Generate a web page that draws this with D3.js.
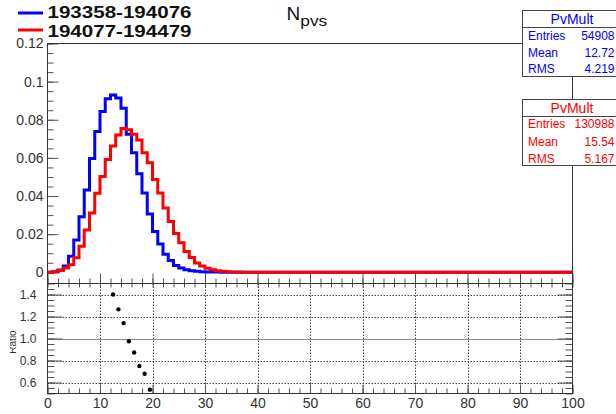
<!DOCTYPE html>
<html>
<head>
<meta charset="utf-8">
<script src="https://cdn.jsdelivr.net/npm/d3@7"></script>
<style>
  body { margin: 0; background: #fff; }
  text { font-family: "Liberation Sans", Arial, sans-serif; }
</style>
</head>
<body>
<div id="chart"></div>
<script>
// bin contents, bins of width 1 starting at 0 (bins past the list are empty)
var blueVals = [0, 0.0003, 0.0012, 0.0033, 0.0084, 0.0169, 0.0292, 0.0432, 0.0597, 0.0738,
                0.0843, 0.0910, 0.0930, 0.0914, 0.0860, 0.0724, 0.0627, 0.0517, 0.0416, 0.0306,
                0.0214, 0.0148, 0.0095, 0.0062, 0.0036, 0.0022, 0.0014, 0.0008, 0.0005, 0.0003,
                0.0002, 0.0001, 0.0001, 0, 0, 0, 0, 0, 0, 0];
var redVals  = [0, 0.0003, 0.0010, 0.0023, 0.0039, 0.0076, 0.0137, 0.0222, 0.0311, 0.0415,
                0.0503, 0.0591, 0.0663, 0.0720, 0.0754, 0.0747, 0.0724, 0.0694, 0.0627, 0.0575,
                0.0487, 0.0416, 0.0337, 0.0267, 0.0204, 0.0155, 0.0109, 0.0077, 0.0049, 0.0033,
                0.0021, 0.0013, 0.0008, 0.0005, 0.0003, 0.0002, 0.0001, 0, 0, 0];
// ratio points visible inside the 0.5 - 1.5 window
var ratioBins = [12, 13, 14, 15, 16, 17, 18, 19];
var ratioVals = [1.40, 1.265, 1.14, 0.975, 0.873, 0.75, 0.68, 0.535];

var legendNames = ["193358-194076", "194077-194479"];
var statLabels = ["Entries", "Mean", "RMS"];
var blueStats = ["54908", "12.72", "4.219"];
var redStats = ["130988", "15.54", "5.167"];

var xTicks = [0, 10, 20, 30, 40, 50, 60, 70, 80, 90, 100];
var yTopTicks = [0, 0.02, 0.04, 0.06, 0.08, 0.1, 0.12];
var yBotTicks = [0.6, 0.8, 1, 1.2, 1.4];

var width = 616, height = 414;
var L = 47.5, R = 572.5, T = 43.5, M = 283.5, B = 393.5;

var svg = d3.select("#chart").append("svg")
    .attr("width", width).attr("height", height);

var x = d3.scaleLinear().domain([0, 100]).range([L, R]);
var yTop = d3.scaleLinear().domain([0, 0.12]).range([272.3, T]);
var yBot = d3.scaleLinear().domain([0.5, 1.5]).range([B, M]);

function minor(lo, hi, step) {
  var out = [];
  for (var v = lo; v <= hi + 1e-9; v += step) out.push(+v.toFixed(4));
  return out;
}

svg.append("clipPath").attr("id", "topclip")
  .append("rect").attr("x", L).attr("y", T).attr("width", R - L).attr("height", M - T);
svg.append("clipPath").attr("id", "leftclip")
  .append("rect").attr("x", 10).attr("y", 0).attr("width", 40).attr("height", height);

// ---------- lower panel grid ----------
var grid = svg.append("g");
grid.selectAll(".vg").data(xTicks.slice(1, -1)).enter().append("line")
    .attr("x1", function(d) { return Math.round(x(d)) + 0.5; })
    .attr("x2", function(d) { return Math.round(x(d)) + 0.5; })
    .attr("y1", M).attr("y2", B)
    .attr("stroke", "#444").attr("stroke-dasharray", "1.5,1.5");
grid.selectAll(".hg").data(yBotTicks.filter(function(d) { return d != 1; })).enter().append("line")
    .attr("x1", L).attr("x2", R)
    .attr("y1", function(d) { return Math.round(yBot(d)) + 0.5; })
    .attr("y2", function(d) { return Math.round(yBot(d)) + 0.5; })
    .attr("stroke", "#444").attr("stroke-dasharray", "1.5,1.5");
grid.append("line")
    .attr("x1", L).attr("x2", R)
    .attr("y1", Math.round(yBot(1)) + 0.5).attr("y2", Math.round(yBot(1)) + 0.5)
    .attr("stroke", "#888").attr("stroke-width", 1.2);

// ---------- axes ----------
function styleAxis(g) {
  g.select(".domain").remove();
  g.selectAll("line").attr("stroke", "#555");
  g.selectAll("text").attr("fill", "#333");
}

// top panel left axis
svg.append("g").attr("transform", "translate(" + L + ",0)")
  .call(d3.axisLeft(yTop).tickValues(minor(0, 0.12, 0.005)).tickSizeInner(-6).tickSizeOuter(0).tickFormat(""))
  .call(styleAxis);
svg.append("g").attr("transform", "translate(" + L + ",0)")
  .call(d3.axisLeft(yTop).tickValues(yTopTicks).tickSizeInner(-11).tickSizeOuter(0).tickPadding(4)
        .tickFormat(function(d) { return d3.format("")(+d.toFixed(2)); }))
  .call(styleAxis)
  .selectAll("text").style("font-size", "14px");

// top panel bottom axis (ticks only)
svg.append("g").attr("transform", "translate(0," + M + ")")
  .call(d3.axisBottom(x).tickValues(minor(0, 100, 2)).tickSizeInner(-5).tickSizeOuter(0).tickFormat(""))
  .call(styleAxis);
svg.append("g").attr("transform", "translate(0," + M + ")")
  .call(d3.axisBottom(x).tickValues(xTicks).tickSizeInner(-10).tickSizeOuter(0).tickFormat(""))
  .call(styleAxis);

// lower panel: left / right
svg.append("g").attr("transform", "translate(" + L + ",0)")
  .call(d3.axisLeft(yBot).tickValues(minor(0.5, 1.5, 0.05)).tickSizeInner(-7).tickSizeOuter(0).tickFormat(""))
  .call(styleAxis);
svg.append("g").attr("transform", "translate(" + L + ",0)")
  .call(d3.axisLeft(yBot).tickValues(yBotTicks).tickSizeInner(-15).tickSizeOuter(0).tickPadding(11))
  .call(styleAxis)
  .selectAll("text").style("font-size", "12px");
svg.append("g").attr("transform", "translate(" + R + ",0)")
  .call(d3.axisRight(yBot).tickValues(minor(0.5, 1.5, 0.05)).tickSizeInner(-7).tickSizeOuter(0).tickFormat(""))
  .call(styleAxis);
svg.append("g").attr("transform", "translate(" + R + ",0)")
  .call(d3.axisRight(yBot).tickValues(yBotTicks).tickSizeInner(-15).tickSizeOuter(0).tickFormat(""))
  .call(styleAxis);

// lower panel: bottom / top
svg.append("g").attr("transform", "translate(0," + B + ")")
  .call(d3.axisBottom(x).tickValues(minor(0, 100, 2)).tickSizeInner(-5).tickSizeOuter(0).tickFormat(""))
  .call(styleAxis);
svg.append("g").attr("transform", "translate(0," + B + ")")
  .call(d3.axisBottom(x).tickValues(xTicks).tickSizeInner(-9).tickSizeOuter(0).tickPadding(5))
  .call(styleAxis)
  .selectAll("text").style("font-size", "14px");
svg.append("g").attr("transform", "translate(0," + M + ")")
  .call(d3.axisTop(x).tickValues(minor(0, 100, 2)).tickSizeInner(-4).tickSizeOuter(0).tickFormat(""))
  .call(styleAxis);

// lower panel y title, cut by the pad edge
svg.append("g").attr("clip-path", "url(#leftclip)")
  .append("text")
    .attr("transform", "translate(15.5,342) rotate(-90)")
    .attr("text-anchor", "middle")
    .attr("fill", "#333")
    .style("font-size", "10px")
    .text("Ratio");

// ---------- histograms ----------
function stepPoints(vals) {
  var pts = vals.map(function(v, i) { return [i, v]; });
  pts.push([vals.length, 0]);
  pts.push([100, 0]);
  return pts;
}
var line = d3.line()
    .x(function(d) { return x(d[0]); })
    .y(function(d) { return yTop(d[1]); })
    .curve(d3.curveStepAfter);

var hg = svg.append("g").attr("clip-path", "url(#topclip)");
hg.append("path").datum(stepPoints(blueVals))
    .attr("d", line).attr("fill", "none").attr("stroke", "#0000ff").attr("stroke-width", 3);
hg.append("path").datum(stepPoints(redVals))
    .attr("d", line).attr("fill", "none").attr("stroke", "#ff0000").attr("stroke-width", 3);

// ratio points
svg.selectAll(".rp").data(ratioBins).enter().append("circle")
    .attr("cx", function(d) { return x(d + 0.5); })
    .attr("cy", function(d, i) { return yBot(ratioVals[i]); })
    .attr("r", 2.2)
    .attr("fill", "#000");

// ---------- frames ----------
svg.append("rect").attr("x", L).attr("y", T).attr("width", R - L).attr("height", M - T)
    .attr("fill", "none").attr("stroke", "#333");
svg.append("rect").attr("x", L).attr("y", M).attr("width", R - L).attr("height", B - M)
    .attr("fill", "none").attr("stroke", "#333");

// ---------- title ----------
var title = svg.append("text").attr("x", 286.5).attr("y", 20).attr("fill", "#111");
title.append("tspan").style("font-size", "19px").text("N");
title.append("tspan").attr("dy", 6).style("font-size", "14px")
    .attr("textLength", 27).attr("lengthAdjust", "spacingAndGlyphs").text("pvs");

// ---------- legend ----------
var legColors = ["#0000ff", "#ff0000"];
var legY = [13, 30];
var legBase = [18, 36.5];
legendNames.forEach(function(name, i) {
  svg.append("line").attr("x1", 18).attr("x2", 43).attr("y1", legY[i]).attr("y2", legY[i])
      .attr("stroke", legColors[i]).attr("stroke-width", 3);
  svg.append("text").attr("x", 47.5).attr("y", legBase[i])
      .attr("fill", "#111")
      .style("font-size", "16.5px").style("font-weight", "bold")
      .attr("textLength", 144).attr("lengthAdjust", "spacingAndGlyphs")
      .text(name);
});

// ---------- stats boxes ----------
function statBox(top, headLine, bottom, color, values, headBase, rowBase) {
  var g = svg.append("g");
  g.append("rect").attr("x", 522.5).attr("y", top).attr("width", 100).attr("height", bottom - top)
      .attr("fill", "#fff").attr("stroke", "#444");
  g.append("line").attr("x1", 522.5).attr("x2", 622).attr("y1", headLine).attr("y2", headLine)
      .attr("stroke", "#444");
  g.append("text").attr("x", 572).attr("y", headBase).attr("text-anchor", "middle")
      .attr("fill", color).style("font-size", "14px").text("PvMult");
  statLabels.forEach(function(lab, i) {
    g.append("text").attr("x", 528).attr("y", rowBase[i]).attr("fill", color)
        .style("font-size", "12px").text(lab);
    g.append("text").attr("x", 614.5).attr("y", rowBase[i]).attr("text-anchor", "end")
        .attr("fill", color).style("font-size", "12px").text(values[i]);
  });
}
statBox(10.5, 27.5, 76.5, "#0000ff", blueStats, 24, [40, 56.7, 72.7]);
statBox(99.5, 116.5, 165.5, "#ff0000", redStats, 113.3, [128.3, 145.7, 162.7]);
</script>
</body>
</html>
